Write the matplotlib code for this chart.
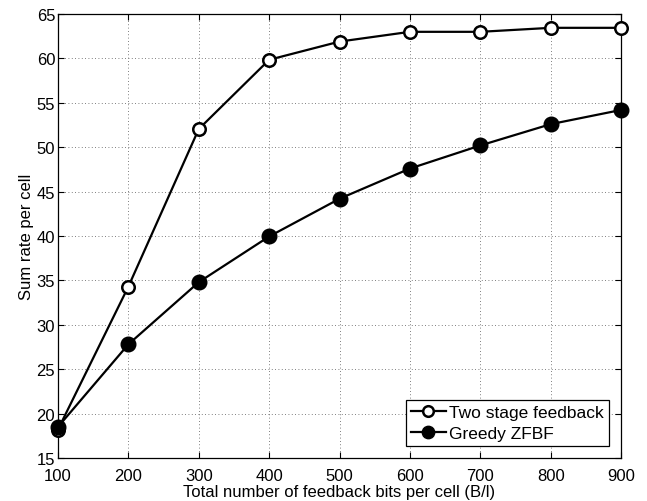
import numpy as np
import matplotlib
matplotlib.use('Agg')
import matplotlib.pyplot as plt

plt.rcParams['font.family'] = ['Liberation Sans', 'DejaVu Sans']

bits = [100, 200, 300, 400, 500, 600, 700, 800, 900]
two_stage = [18.2, 34.3, 52.05, 59.85, 61.9, 63.0, 63.0, 63.45, 63.45]
greedy = [18.5, 27.8, 34.8, 39.95, 44.2, 47.6, 50.2, 52.6, 54.2]

fig = plt.figure(figsize=(6.47, 5.02), dpi=100)
ax = fig.add_axes([0.0896, 0.0857, 0.8704, 0.8843])

ax.plot(bits, two_stage, '-o', color='black', lw=1.6, ms=9, mfc='white',
        mew=1.8, label='Two stage feedback', clip_on=False, zorder=3)
ax.plot(bits, greedy, '-o', color='black', lw=1.6, ms=10.5, mfc='black',
        label='Greedy ZFBF', clip_on=False, zorder=3)

ax.set_xlim(100, 900)
ax.set_ylim(15, 65)
ax.set_xticks(np.arange(100, 901, 100))
ax.set_yticks(np.arange(15, 66, 5))
ax.grid(True, linestyle=(0, (1, 3)), color='#555555', lw=0.6)
ax.tick_params(direction='in', top=True, right=True, labelsize=12, length=4)
ax.tick_params(axis='x', pad=7)
ax.tick_params(axis='y', pad=2)
for s in ax.spines.values():
    s.set_linewidth(0.9)

ax.set_xlabel('Total number of feedback bits per cell (B/l)', fontsize=12, labelpad=1)
ax.set_ylabel('Sum rate per cell', fontsize=12, labelpad=2)

leg = ax.legend(loc='lower right', fontsize=12.5, fancybox=False, framealpha=1,
                edgecolor='black', borderaxespad=0.7, handlelength=2.0,
                handletextpad=0.2, borderpad=0.3, labelspacing=0.3,
                markerscale=0.85)
leg.get_frame().set_linewidth(0.9)

fig.savefig('out.png', dpi=100)
